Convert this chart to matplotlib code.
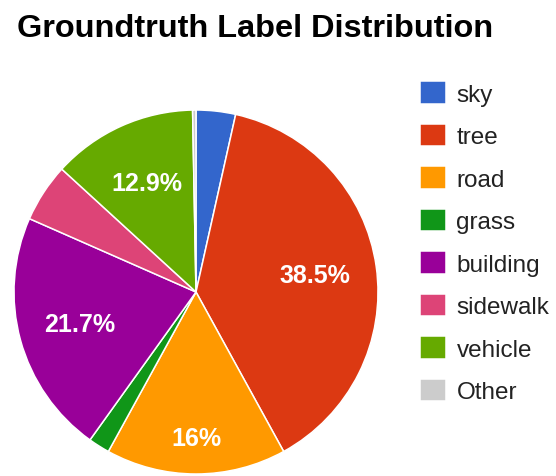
import numpy as np
import matplotlib.pyplot as plt

plt.rcParams['font.family'] = ['Liberation Sans', 'DejaVu Sans']

labels = ['sky', 'tree', 'road', 'grass', 'building', 'sidewalk', 'vehicle', 'Other']
shares = [3.5, 38.5, 16.0, 1.9, 21.7, 5.2, 12.9, 0.3]
colors = ['#3366CC', '#DC3912', '#FF9900', '#109618', '#990099', '#DD4477', '#66AA00', '#CCCCCC']

fig = plt.figure(figsize=(5.56, 4.77), dpi=100)
ax = fig.add_axes([14/556, 2/477, 364/556, 364/477])


def pct(p):
    if p < 10:
        return ''
    return ('%.1f%%' % p).replace('.0%', '%')


wedges, texts, autotexts = ax.pie(shares, colors=colors, startangle=90, counterclock=False,
                                  autopct=pct, pctdistance=0.66, radius=1,
                                  wedgeprops=dict(edgecolor='white', linewidth=1.1),
                                  textprops=dict(color='white', fontsize=18, fontweight='bold'))
# google puts the road label further out
for lab, t in zip(labels, autotexts):
    if lab == 'road':
        x, y = t.get_position()
        t.set_position((x * 0.80 / 0.66, y * 0.80 / 0.66))

ax.set_xlim(-1, 1)
ax.set_ylim(-1, 1)
ax.set_aspect('equal')

fig.text(17/556, 1 - 37/477, 'Groundtruth Label Distribution', fontsize=23.4,
         fontweight='bold', ha='left', va='baseline')

leg = fig.legend(wedges, labels, loc='upper left', bbox_to_anchor=(420/556, 1 - 82/477),
                 frameon=False, fontsize=17.5, handlelength=1.05, handleheight=1.05,
                 handletextpad=0.45, labelspacing=0.74, borderpad=0, borderaxespad=0)
for t in leg.get_texts():
    t.set_color('#222222')

fig.savefig('out.png', dpi=100)
